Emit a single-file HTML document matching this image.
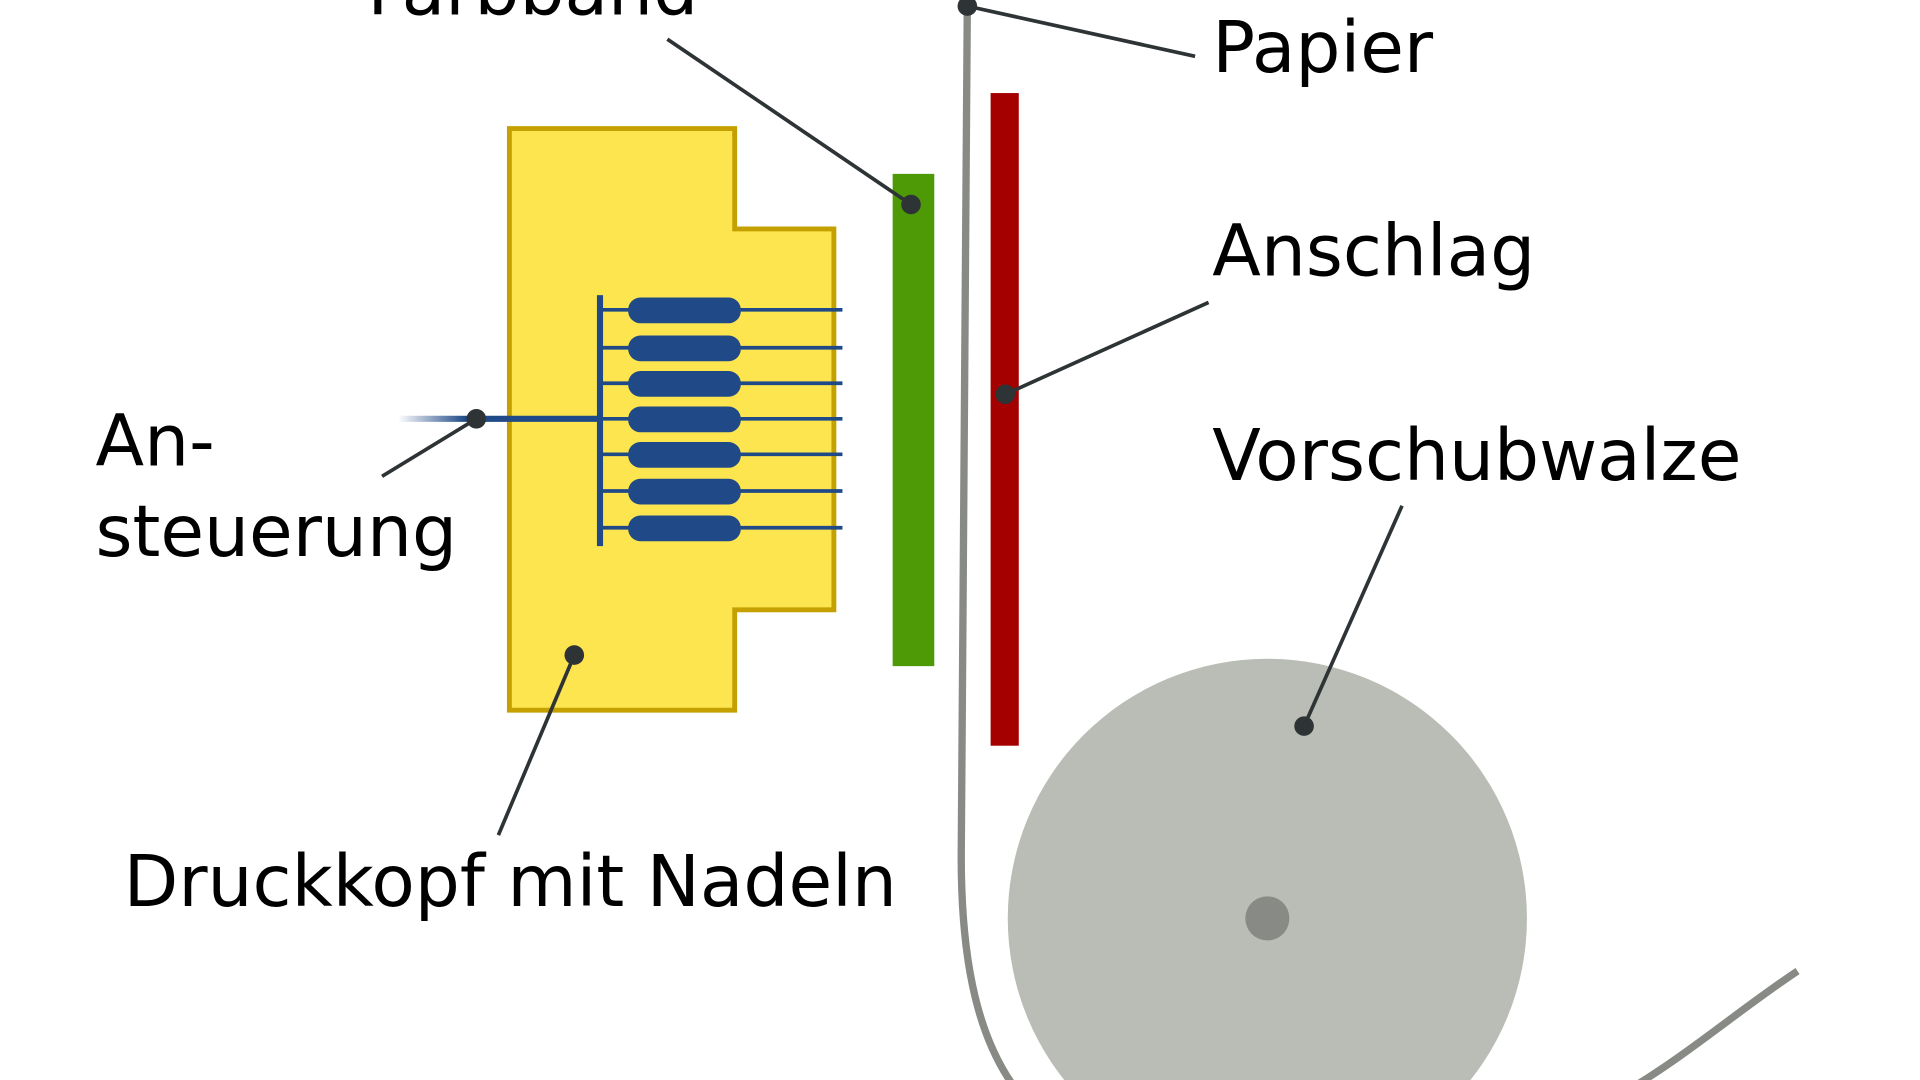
<!DOCTYPE html>
<html><head><meta charset="utf-8"><style>html,body{margin:0;padding:0;background:#fff;overflow:hidden;width:1920px;height:1080px}svg{display:block;overflow:hidden}</style></head>
<body>
<svg width="1920" height="1080" viewBox="0 0 1568 882" xmlns="http://www.w3.org/2000/svg">
<defs>
<linearGradient id="g" x1="325" y1="0" x2="380" y2="0" gradientUnits="userSpaceOnUse">
<stop offset="0" stop-color="#204a87" stop-opacity="0"/><stop offset="1" stop-color="#204a87"/></linearGradient>
<clipPath id="c"><rect width="1568" height="882"/></clipPath>
</defs>
<g clip-path="url(#c)">
<rect width="1568" height="882" fill="#fff"/>
<circle cx="1035" cy="750" r="212" fill="#babdb6"/>
<circle cx="1035" cy="750" r="18" fill="#888a85"/>
<path d="M790,0 L785,700 C785,790 800,850 830,890" fill="none" stroke="#888a85" stroke-width="6"/>
<path d="M1330,890 C1380,860 1420,825 1468,793" fill="none" stroke="#888a85" stroke-width="6"/>
<polygon points="416,105 600,105 600,187 681,187 681,498 600,498 600,580 416,580" fill="#fce54f" stroke="#c4a000" stroke-width="4"/>
<line x1="325" y1="342" x2="490" y2="342" stroke="url(#g)" stroke-width="5"/>
<line x1="490" y1="241" x2="490" y2="446" stroke="#204a87" stroke-width="5"/>
<g stroke="#204a87" stroke-width="3">
<line x1="490" y1="253" x2="688" y2="253"/><line x1="490" y1="284" x2="688" y2="284"/>
<line x1="490" y1="313" x2="688" y2="313"/><line x1="490" y1="342" x2="688" y2="342"/>
<line x1="490" y1="371" x2="688" y2="371"/><line x1="490" y1="401" x2="688" y2="401"/>
<line x1="490" y1="431" x2="688" y2="431"/></g>
<g fill="#204a87">
<rect x="513" y="243" width="92" height="21" rx="10"/><rect x="513" y="274" width="92" height="21" rx="10"/>
<rect x="513" y="303" width="92" height="21" rx="10"/><rect x="513" y="332" width="92" height="21" rx="10"/>
<rect x="513" y="361" width="92" height="21" rx="10"/><rect x="513" y="391" width="92" height="21" rx="10"/>
<rect x="513" y="421" width="92" height="21" rx="10"/></g>
<rect x="729" y="142" width="34" height="402" fill="#4e9a06"/>
<rect x="809" y="76" width="23" height="533" fill="#a40000"/>
<g stroke="#2e3436" stroke-width="3" fill="none">
<line x1="545" y1="32" x2="744" y2="167"/>
<line x1="976" y1="46" x2="790" y2="5"/>
<line x1="987" y1="247" x2="821" y2="322"/>
<line x1="1145" y1="413" x2="1065" y2="593"/>
<line x1="407" y1="682" x2="469" y2="535"/>
<line x1="312" y1="389" x2="389" y2="342"/></g>
<g fill="#2e3436">
<circle cx="744" cy="167" r="8"/><circle cx="790" cy="5" r="8"/><circle cx="821" cy="322" r="8"/>
<circle cx="1065" cy="593" r="8"/><circle cx="469" cy="535" r="8"/><circle cx="389" cy="342" r="8"/></g>
<g font-family="DejaVu Sans, Liberation Sans, sans-serif" font-size="58" fill="#000">
<text x="300" y="12">Farbband</text>
<text x="990" y="59">Papier</text>
<text x="990" y="225">Anschlag</text>
<text x="990" y="392">Vorschubwalze</text>
<text x="78" y="380">An-</text>
<text x="78" y="454">steuerung</text>
<text x="101" y="740">Druckkopf mit Nadeln</text>
</g>
</g>
</svg>
</body></html>
